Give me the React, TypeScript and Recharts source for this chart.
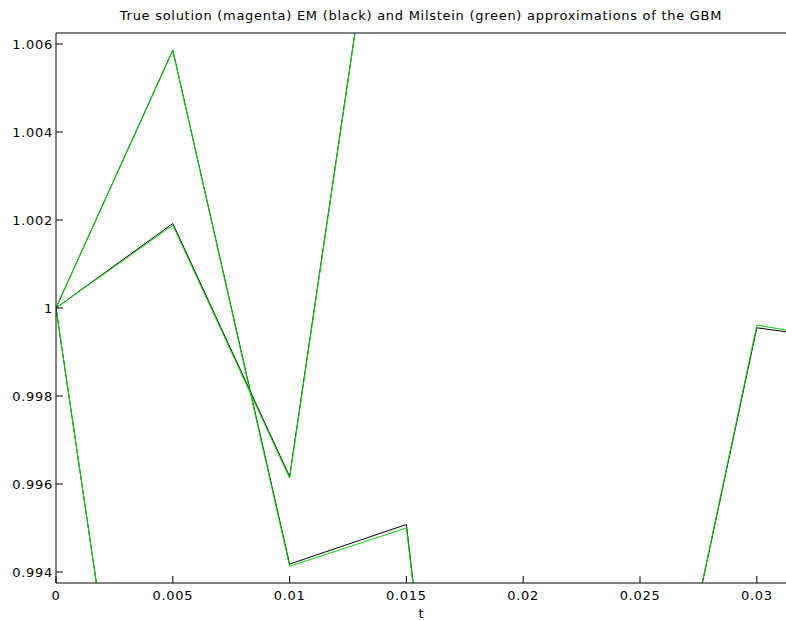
import { Label, Line, LineChart, XAxis, YAxis } from "recharts";

// time grid, dt = 0.005
const T = [0, 0.005, 0.01, 0.015, 0.02, 0.025, 0.03, 0.035];

// sample path 1
const EM_1 = [1, 1.00586, 0.99418, 0.99508, 0.9721, 0.9871, 0.99955, 0.99919];
const MIL_1 = [1, 1.00585, 0.99413, 0.995, 0.972, 0.9871, 0.99961, 0.99917];
// sample path 2
const EM_2 = [1, 1.00192, 0.99617, 1.0142];
const MIL_2 = [1, 1.00188, 0.99613, 1.0142];
// sample path 3
const EM_3 = [1, 0.98193];
const MIL_3 = [1, 0.98193];

const X_TICKS = [0, 0.005, 0.01, 0.015, 0.02, 0.025, 0.03];
const Y_TICKS = [0.994, 0.996, 0.998, 1, 1.002, 1.004, 1.006];
const X_DOMAIN = [0, 0.03125];
const Y_DOMAIN = [0.99375, 1.00625];

const FONT = "DejaVu Sans";
const tickStyle = { fill: "#000", fontSize: 13, fontFamily: FONT, letterSpacing: 0.7 };

const toPoints = (vals: number[]) => vals.map((v, i) => ({ t: T[i], v }));

const paths = [
  { em: EM_1, mil: MIL_1 },
  { em: EM_2, mil: MIL_2 },
  { em: EM_3, mil: MIL_3 },
];

export default function App() {
  return (
    <div
      style={{
        position: "absolute",
        left: 0,
        top: 0,
        width: 786,
        height: 620,
        background: "#fff",
        overflow: "hidden",
      }}
    >
      <div
        style={{
          position: "absolute",
          left: 56,
          width: 730,
          top: 9,
          textAlign: "center",
          fontFamily: FONT,
          fontSize: 13,
          letterSpacing: 0.72,
          lineHeight: "13px",
          color: "#000",
          whiteSpace: "nowrap",
        }}
      >
        True solution (magenta) EM (black) and Milstein (green) approximations of the GBM
      </div>
      <LineChart
        width={786}
        height={620}
        margin={{ top: 0, right: 0, bottom: 0, left: 0 }}
      >
        <XAxis
          dataKey="t"
          type="number"
          domain={X_DOMAIN}
          ticks={X_TICKS}
          allowDataOverflow
          height={37}
          tick={tickStyle}
          tickSize={-7}
          tickMargin={15}
          stroke="#000"
        >
          <Label
            value="t"
            position="insideBottom"
            offset={2}
            style={{ fill: "#000", fontSize: 13, fontFamily: FONT }}
          />
        </XAxis>
        <XAxis
          xAxisId="top"
          orientation="top"
          dataKey="t"
          type="number"
          domain={X_DOMAIN}
          ticks={X_TICKS}
          allowDataOverflow
          height={33}
          tick={false}
          tickSize={-7}
          stroke="#000"
        />
        <YAxis
          type="number"
          domain={Y_DOMAIN}
          ticks={Y_TICKS}
          allowDataOverflow
          width={56}
          tick={tickStyle}
          tickSize={-7}
          tickMargin={10}
          stroke="#000"
        />
        <YAxis
          yAxisId="right"
          orientation="right"
          type="number"
          domain={Y_DOMAIN}
          ticks={Y_TICKS}
          allowDataOverflow
          width={0}
          tick={false}
          tickSize={-7}
          axisLine={false}
          stroke="#000"
        />
        {paths.map((p, i) => (
          <Line
            key={`em-${i}`}
            data={toPoints(p.em)}
            dataKey="v"
            type="linear"
            stroke="#000"
            strokeWidth={1}
            dot={false}
            activeDot={false}
            isAnimationActive={false}
          />
        ))}
        {paths.map((p, i) => (
          <Line
            key={`mil-${i}`}
            data={toPoints(p.mil)}
            dataKey="v"
            type="linear"
            stroke="#00dd00"
            strokeWidth={1}
            dot={false}
            activeDot={false}
            isAnimationActive={false}
          />
        ))}
      </LineChart>
    </div>
  );
}
